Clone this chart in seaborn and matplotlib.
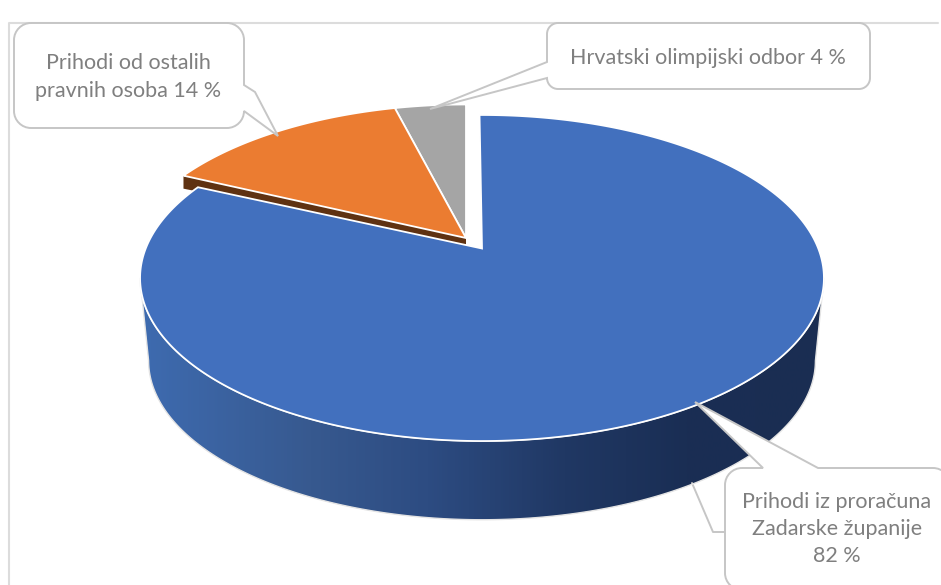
import numpy as np
import matplotlib
matplotlib.use('Agg')
import matplotlib.pyplot as plt
from matplotlib.patches import PathPatch, Polygon
from matplotlib.path import Path
from matplotlib.colors import LinearSegmentedColormap
import seaborn as sns

labels = ['Prihodi iz proračuna\nZadarske županije\n82 %',
          'Prihodi od ostalih\npravnih osoba 14 %',
          'Hrvatski olimpijski odbor 4 %']
shares = [82, 14, 4]
slice_colors = ['#4270be', '#eb7c31', '#a5a5a5']

sns.set_theme(style='white')
plt.rcParams['font.family'] = ['Lato', 'DejaVu Sans']
palette = sns.color_palette(slice_colors)

# perspective of the disc
K = 0.181
S = 157.7
R = 336.3
TEXT_COL = '#7f7f7f'
LINE_COL = '#c6c6c6'


def rim(theta, cx, cy, scale=1.0):
    # theta clockwise from the top, projected on screen
    u = np.sin(theta)
    v = -np.cos(theta)
    d = 1 - K * v
    return cx + scale * R * u / d, cy + scale * S * v / d


def wedge(start, end, cx, cy):
    t = np.linspace(start, end, 300)
    x, y = rim(t, cx, cy)
    return np.vstack([[cx, cy], np.column_stack([x, y])])


def callout(ax, box, r, tail):
    # rounded box, the tail points are spliced in where it leaves the box
    x0, y0, x1, y1 = box
    side, pts = tail
    k = 0.55
    v = [(x0 + r, y0)]
    c = [Path.MOVETO]
    if side == 'top':
        v += pts; c += [Path.LINETO] * len(pts)
    v += [(x1 - r, y0)]; c += [Path.LINETO]
    v += [(x1 - r + k * r, y0), (x1, y0 + r - k * r), (x1, y0 + r)]; c += [Path.CURVE4] * 3
    if side == 'right':
        v += pts; c += [Path.LINETO] * len(pts)
    v += [(x1, y1 - r)]; c += [Path.LINETO]
    v += [(x1, y1 - r + k * r), (x1 - r + k * r, y1), (x1 - r, y1)]; c += [Path.CURVE4] * 3
    v += [(x0 + r, y1)]; c += [Path.LINETO]
    v += [(x0 + r - k * r, y1), (x0, y1 - r + k * r), (x0, y1 - r)]; c += [Path.CURVE4] * 3
    if side == 'left':
        v += pts; c += [Path.LINETO] * len(pts)
    v += [(x0, y0 + r)]; c += [Path.LINETO]
    v += [(x0, y0 + r - k * r), (x0 + r - k * r, y0), (x0 + r, y0)]; c += [Path.CURVE4] * 3
    ax.add_patch(PathPatch(Path(v, c), fc='white', ec=LINE_COL, lw=1.4, zorder=10))


fig = plt.figure(figsize=(9.41, 5.85), dpi=100)
ax = fig.add_axes([0, 0, 1, 1])
ax.set_xlim(0, 941)
ax.set_ylim(585, 0)
ax.axis('off')

ax.plot([9.5, 9.5, 938], [585, 23, 23], color='#dcdcdc', lw=1.5, zorder=0)

fracs = np.cumsum([0] + shares) / sum(shares) * 2 * np.pi
blue_turn = np.deg2rad(-0.5)

# blue side wall with its shading
blue_c = (482, 248.5)
other_c = (466, 238)
t0 = np.arccos(-K)
t_front = np.linspace(t0, 2 * np.pi - t0, 300)
xt, yt = rim(t_front, *blue_c)
xb, yb = rim(t_front[::-1], blue_c[0], 332, 0.975)
side = np.vstack([np.column_stack([xt, yt]), np.column_stack([xb, yb])])
side_patch = Polygon(side, closed=True, fc='none', ec='#e4e4e4', lw=1.0, zorder=2)
ax.add_patch(side_patch)
shade = LinearSegmentedColormap.from_list('shade', [
    (0.00, '#3e6bb0'), (0.25, '#37598f'), (0.42, '#2d4c82'),
    (0.62, '#203864'), (0.80, '#1a2e54'), (1.00, '#1a2d52')])
im = ax.imshow(np.linspace(0, 1, 512)[None, :], extent=(140, 824, 585, 0), cmap=shade,
               aspect='auto', zorder=1)
im.set_clip_path(side_patch)
ax.set_xlim(0, 941)
ax.set_ylim(585, 0)

# small visible part of the orange cut face
tip = rim(fracs[1], *other_c)
ax.add_patch(Polygon([tip, other_c, (other_c[0], other_c[1] + 8), (tip[0], tip[1] + 13)],
                     closed=True, fc='#5f3212', ec='none', zorder=3))

# top faces
ax.add_patch(Polygon(wedge(fracs[2], fracs[3], *other_c), closed=True, fc=palette[2],
                     ec='white', lw=1.3, zorder=4))
ax.add_patch(Polygon(wedge(fracs[1], fracs[2], *other_c), closed=True, fc=palette[1],
                     ec='white', lw=1.3, zorder=4))
ax.add_patch(Polygon(wedge(fracs[0] + blue_turn, fracs[1] + blue_turn, *blue_c), closed=True,
                     fc=palette[0], ec='white', lw=1.3, zorder=5))

# leader piece that runs behind the pie
ax.plot([692, 713, 726], [483, 532, 532], color=LINE_COL, lw=1.4, zorder=1)

callout(ax, (14, 23, 244, 128), 17, ('right', [(244, 85), (255, 92), (278, 136), (244, 111)]))
callout(ax, (547, 23, 870, 89), 11, ('left', [(547, 78), (430, 109), (547, 62)]))
callout(ax, (725, 468, 950, 590), 17, ('top', [(763, 468), (695, 402), (818, 468)]))

ax.text(128, 77, labels[1], ha='center', va='center', fontsize=15.5, color=TEXT_COL,
        linespacing=1.44, zorder=11)
ax.text(708, 58, labels[2], ha='center', va='center', fontsize=15.5, color=TEXT_COL, zorder=11)
ax.text(837, 529, labels[0], ha='center', va='center', fontsize=15.5, color=TEXT_COL,
        linespacing=1.44, zorder=11)

fig.savefig('out.png', dpi=100)
